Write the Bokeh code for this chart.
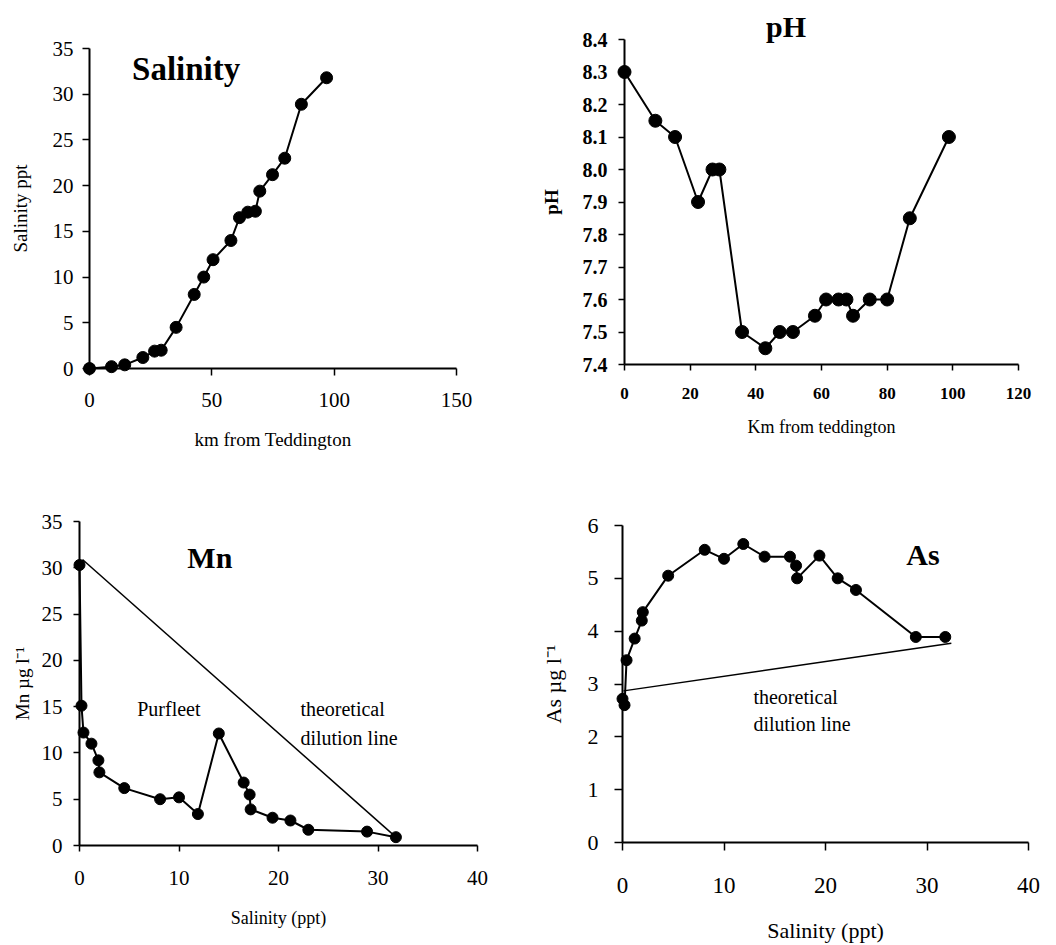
from bokeh.plotting import figure
from bokeh.models import Range1d, FixedTicker, PrintfTickFormatter
from bokeh.core.properties import value
from bokeh.layouts import column, row
from bokeh.embed import file_html
from bokeh.resources import INLINE

SERIF = "Liberation Serif"

# Sampling stations down the Thames estuary
km_salinity = [0, 9, 14.4, 21.8, 26.6, 29.3, 35.4, 42.8, 46.7, 50.5, 57.8, 61.3,
               64.7, 67.8, 69.6, 74.8, 79.8, 86.6, 96.9]
salinity_ppt = [0, 0.2, 0.4, 1.2, 1.9, 2.0, 4.5, 8.1, 10.0, 11.9, 14.0, 16.5,
                17.1, 17.2, 19.4, 21.2, 23.0, 28.9, 31.8]

km_ph = [0, 9.4, 15.4, 22.4, 26.8, 28.9, 35.8, 42.9, 47.3, 51.3, 58.0, 61.4,
         65.2, 67.6, 69.6, 74.7, 80.0, 86.9, 98.8]
ph_values = [8.30, 8.15, 8.10, 7.90, 8.00, 8.00, 7.50, 7.45, 7.50, 7.50, 7.55, 7.60,
             7.60, 7.60, 7.55, 7.60, 7.60, 7.85, 8.10]

# Dissolved metals against salinity (same stations, same order)
mn_ugl = [30.3, 15.1, 12.2, 11.0, 9.2, 7.9, 6.2, 5.0, 5.2, 3.4, 12.1, 6.8,
          5.5, 3.9, 3.0, 2.7, 1.7, 1.5, 0.9]
as_ugl = [2.72, 2.60, 3.45, 3.86, 4.20, 4.36, 5.05, 5.54, 5.37, 5.65, 5.41, 5.41,
          5.24, 5.00, 5.43, 5.00, 4.78, 3.89, 3.89]

# Conservative mixing (theoretical dilution) lines between end members
mn_dilution_sal = [0.3, 31.8]
mn_dilution = [30.9, 0.9]
as_dilution_sal = [0.1, 32.4]
as_dilution = [2.87, 3.77]

# Axis ticks
sal_km_ticks = [0, 50, 100, 150]
sal_ticks = [0, 5, 10, 15, 20, 25, 30, 35]
ph_km_ticks = [0, 20, 40, 60, 80, 100, 120]
ph_ticks = [7.4, 7.5, 7.6, 7.7, 7.8, 7.9, 8.0, 8.1, 8.2, 8.3, 8.4]
metal_sal_ticks = [0, 10, 20, 30, 40]
mn_ticks = [0, 5, 10, 15, 20, 25, 30, 35]
as_ticks = [0, 1, 2, 3, 4, 5, 6]


def make_panel(width, height, borders, xr, yr, xticks, yticks):
    left, right, top, bottom = borders
    p = figure(width=width, height=height,
               x_range=Range1d(*xr), y_range=Range1d(*yr),
               output_backend="svg", toolbar_location=None, title=None,
               min_border_left=left, min_border_right=right,
               min_border_top=top, min_border_bottom=bottom)
    p.outline_line_color = None
    p.grid.visible = False
    p.background_fill_color = "white"
    p.border_fill_color = "white"
    p.xaxis.ticker = FixedTicker(ticks=xticks)
    p.yaxis.ticker = FixedTicker(ticks=yticks)
    for ax in (p.xaxis[0], p.yaxis[0]):
        ax.axis_line_width = 2
        ax.axis_line_color = "black"
        ax.major_tick_line_width = 1.5
        ax.major_tick_line_color = "black"
        ax.major_tick_in = 0
        ax.major_tick_out = 7
        ax.minor_tick_line_color = None
        ax.major_label_text_font = SERIF
        ax.major_label_text_color = "black"
        ax.axis_label_text_font = SERIF
        ax.axis_label_text_font_style = "normal"
        ax.axis_label_text_color = "black"
    return p


def series(p, x, y, size):
    p.line(x, y, line_color="black", line_width=2, level="overlay")
    p.scatter(x, y, size=size, fill_color="black", line_color="black", level="overlay")


def note(p, x, y, text, size, bold=False, align="left"):
    p.text(x=[x], y=[y], text=[text], text_font=value(SERIF),
           text_font_size=size, text_font_style="bold" if bold else "normal",
           text_align=align, text_baseline="middle", text_color="black",
           level="overlay")


# --- Salinity along the estuary ---
p1 = make_panel(528, 470, (89, 72, 48, 102), (0, 150), (0, 35), sal_km_ticks, sal_ticks)
p1.xaxis.axis_label = "km from Teddington"
p1.yaxis.axis_label = "Salinity ppt"
p1.xaxis.major_label_text_font_size = "21px"
p1.yaxis.major_label_text_font_size = "21px"
p1.xaxis.axis_label_text_font_size = "19px"
p1.yaxis.axis_label_text_font_size = "19px"
p1.xaxis.major_label_standoff = 17
p1.yaxis.major_label_standoff = 9
p1.xaxis.axis_label_standoff = 19
p1.yaxis.axis_label_standoff = 19
series(p1, km_salinity, salinity_ppt, 12)
note(p1, 17.4, 32.8, "Salinity", "33px", bold=True)

# --- pH along the estuary ---
p2 = make_panel(528, 470, (96, 38, 39, 106), (0, 120), (7.4, 8.4), ph_km_ticks, ph_ticks)
p2.xaxis.axis_label = "Km from teddington"
p2.yaxis.axis_label = "pH"
p2.yaxis.formatter = PrintfTickFormatter(format="%.1f")
p2.xaxis.major_label_text_font_size = "17px"
p2.yaxis.major_label_text_font_size = "20px"
p2.xaxis.major_label_text_font_style = "bold"
p2.yaxis.major_label_text_font_style = "bold"
p2.xaxis.axis_label_text_font_size = "18px"
p2.yaxis.axis_label_text_font_size = "19px"
p2.yaxis.axis_label_text_font_style = "bold"
p2.xaxis.major_tick_out = 6
p2.yaxis.major_tick_out = 6
p2.xaxis.major_label_standoff = 17
p2.yaxis.major_label_standoff = 11
p2.xaxis.axis_label_standoff = 15
p2.yaxis.axis_label_standoff = 18
series(p2, km_ph, ph_values, 13)
note(p2, 49.2, 8.44, "pH", "30px", bold=True, align="center")

# --- Manganese against salinity ---
p3 = make_panel(528, 475, (79, 51, 51, 100), (0, 40), (0, 35), metal_sal_ticks, mn_ticks)
p3.xaxis.axis_label = "Salinity (ppt)"
p3.yaxis.axis_label = "Mn \u00b5g l\u207b\u00b9"
p3.xaxis.major_label_text_font_size = "21px"
p3.yaxis.major_label_text_font_size = "21px"
p3.xaxis.axis_label_text_font_size = "18px"
p3.yaxis.axis_label_text_font_size = "19px"
p3.xaxis.major_tick_out = 6
p3.yaxis.major_tick_out = 6
p3.xaxis.major_label_standoff = 19
p3.yaxis.major_label_standoff = 11
p3.xaxis.axis_label_standoff = 20
p3.yaxis.axis_label_standoff = 6
p3.line(mn_dilution_sal, mn_dilution, line_color="black", line_width=1.5, level="overlay")
series(p3, salinity_ppt, mn_ugl, 11)
note(p3, 13.1, 31.1, "Mn", "30px", bold=True, align="center")
note(p3, 5.8, 14.7, "Purfleet", "20px")
note(p3, 22.2, 14.7, "theoretical", "20px")
note(p3, 22.2, 11.6, "dilution line", "20px")

# --- Arsenic against salinity ---
p4 = make_panel(528, 475, (94, 28, 55, 103), (0, 40), (0, 6), metal_sal_ticks, as_ticks)
p4.xaxis.axis_label = "Salinity (ppt)"
p4.yaxis.axis_label = "As \u00b5g l\u207b\u00b9"
p4.xaxis.major_label_text_font_size = "23px"
p4.yaxis.major_label_text_font_size = "22px"
p4.xaxis.axis_label_text_font_size = "22px"
p4.yaxis.axis_label_text_font_size = "22px"
p4.xaxis.major_tick_out = 8
p4.yaxis.major_tick_out = 8
p4.xaxis.major_label_standoff = 27
p4.yaxis.major_label_standoff = 16
p4.xaxis.axis_label_standoff = 22
p4.yaxis.axis_label_standoff = 19
p4.line(as_dilution_sal, as_dilution, line_color="black", line_width=1.5, level="overlay")
series(p4, salinity_ppt, as_ugl, 11)
note(p4, 29.6, 5.46, "As", "30px", bold=True, align="center")
note(p4, 12.9, 2.75, "theoretical", "20px")
note(p4, 12.9, 2.24, "dilution line", "20px")

layout = column(row(column(p1), column(p2)), row(column(p3), column(p4)))

with open("out.html", "w") as f:
    f.write(file_html(layout, INLINE))
